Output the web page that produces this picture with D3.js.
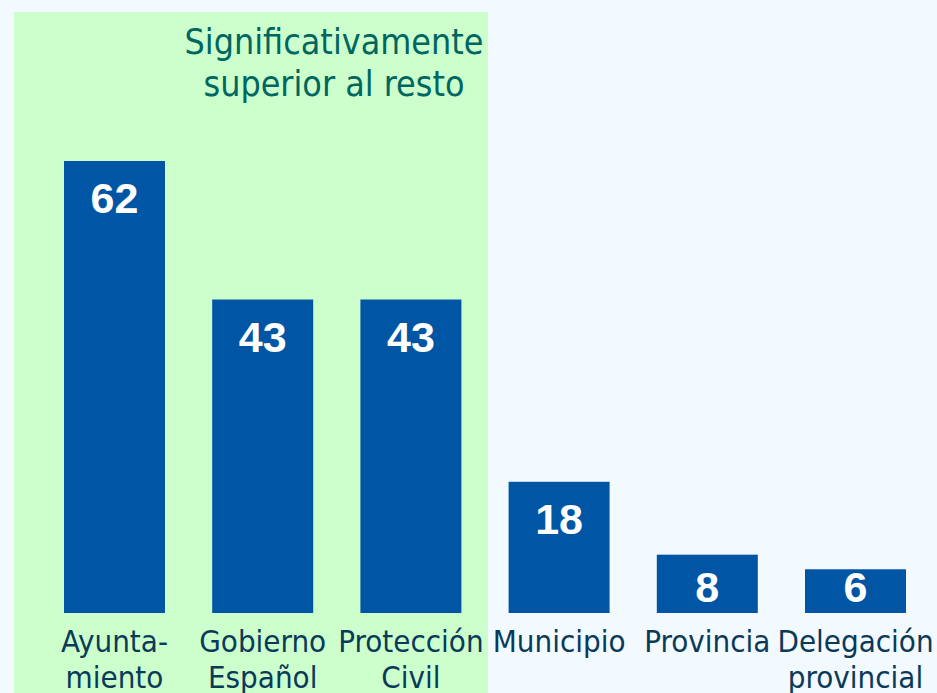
<!DOCTYPE html>
<html>
<head>
<meta charset="utf-8">
<script src="https://cdn.jsdelivr.net/npm/d3@7"></script>
<style>
  html, body { margin: 0; padding: 0; background: #f2f9ff; }
  svg { display: block; }
</style>
</head>
<body>
<div id="wrapper"></div>
<script>
// chart values
const categories = ["Ayuntamiento", "Gobierno Español", "Protección Civil", "Municipio", "Provincia", "Delegación provincial"]
const categoryLines = [["Ayunta-", "miento"], ["Gobierno", "Español"], ["Protección", "Civil"], ["Municipio"], ["Provincia"], ["Delegación", "provincial"]]
const values = [62, 43, 43, 18, 8, 6]
const highlighted = ["Ayuntamiento", "Gobierno Español", "Protección Civil"]
const highlightTitle = ["Significativamente", "superior al resto"]

function drawBarChart() {
    const width = 937
    const height = 693
    const baseline = 613

    const svg = d3.select("#wrapper")
        .append("svg")
            .attr("width", width)
            .attr("height", height)

    svg.append("rect")
        .attr("width", width)
        .attr("height", height)
        .attr("fill", "#f2f9ff")

    // x scale: one band per category
    const xScale = d3.scaleBand()
        .domain(categories)
        .range([64, 906])
        .paddingInner(0.3185)
        .paddingOuter(0)

    // y scale: value -> pixels
    const yScale = d3.scaleLinear()
        .domain([0, 62])
        .range([baseline, 161])

    // green box behind the significant group
    const lastHi = highlighted[highlighted.length - 1]
    const nextCat = categories[highlighted.length]
    const boxRight = (xScale(lastHi) + xScale.bandwidth() + xScale(nextCat)) / 2 + 3
    svg.append("rect")
        .attr("x", 14)
        .attr("y", 12)
        .attr("width", boxRight - 14)
        .attr("height", height - 12)
        .attr("fill", "#ccffcc")

    // title inside the green box
    svg.append("text")
        .attr("x", 334)
        .attr("y", 54)
        .attr("text-anchor", "middle")
        .attr("font-family", "'DejaVu Sans Condensed', 'DejaVu Sans', sans-serif")
        .attr("font-size", 35.5)
        .attr("fill", "#006660")
        .selectAll("tspan")
        .data(highlightTitle)
        .join("tspan")
            .attr("x", 334)
            .attr("dy", (d, i) => i === 0 ? 0 : 42)
            .text(d => d)

    const data = categories.map((c, i) => ({ cat: c, value: values[i], lines: categoryLines[i] }))

    // bars
    svg.append("g")
        .selectAll("rect")
        .data(data)
        .join("rect")
            .attr("x", d => xScale(d.cat))
            .attr("y", d => yScale(d.value))
            .attr("width", xScale.bandwidth())
            .attr("height", d => baseline - yScale(d.value))
            .attr("fill", "#0055a5")

    // value labels
    svg.append("g")
        .selectAll("text")
        .data(data)
        .join("text")
            .attr("x", d => xScale(d.cat) + xScale.bandwidth() / 2)
            .attr("y", d => Math.min(yScale(d.value) + 52, baseline - 11))
            .attr("text-anchor", "middle")
            .attr("font-family", "'Liberation Sans', Arial, sans-serif")
            .attr("font-weight", "bold")
            .attr("font-size", 43)
            .attr("fill", "#ffffff")
            .text(d => d.value)

    // category labels
    const labels = svg.append("g")
        .selectAll("text")
        .data(data)
        .join("text")
            .attr("y", 652)
            .attr("text-anchor", "middle")
            .attr("font-family", "'DejaVu Sans Condensed', 'DejaVu Sans', sans-serif")
            .attr("font-size", 31)
            .attr("fill", "#0a3a58")

    labels.selectAll("tspan")
        .data(d => d.lines.map(l => ({ line: l, cat: d.cat })))
        .join("tspan")
            .attr("x", d => xScale(d.cat) + xScale.bandwidth() / 2)
            .attr("dy", (d, i) => i === 0 ? 0 : 36)
            .text(d => d.line)
}

drawBarChart()
</script>
</body>
</html>
